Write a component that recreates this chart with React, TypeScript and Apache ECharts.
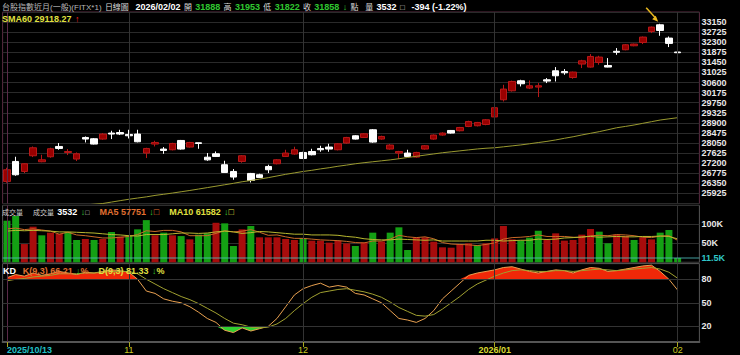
import React, { useEffect, useRef } from 'react';
import * as echarts from 'echarts';

const dates = [
  '2025/10/13','2025/10/14','2025/10/15','2025/10/16','2025/10/17','2025/10/20','2025/10/21','2025/10/22','2025/10/23','2025/10/27','2025/10/28','2025/10/29','2025/10/30','2025/10/31',
  '2025/11/03','2025/11/04','2025/11/05','2025/11/06','2025/11/07','2025/11/10','2025/11/11','2025/11/12','2025/11/13','2025/11/14','2025/11/17','2025/11/18','2025/11/19','2025/11/20','2025/11/21','2025/11/24','2025/11/25','2025/11/26','2025/11/27','2025/11/28',
  '2025/12/01','2025/12/02','2025/12/03','2025/12/04','2025/12/05','2025/12/08','2025/12/09','2025/12/10','2025/12/11','2025/12/12','2025/12/15','2025/12/16','2025/12/17','2025/12/18','2025/12/19','2025/12/22','2025/12/23','2025/12/24','2025/12/26','2025/12/29','2025/12/30','2025/12/31',
  '2026/01/02','2026/01/05','2026/01/06','2026/01/07','2026/01/08','2026/01/09','2026/01/12','2026/01/13','2026/01/14','2026/01/15','2026/01/16','2026/01/19','2026/01/20','2026/01/21','2026/01/22','2026/01/23','2026/01/26','2026/01/27','2026/01/28','2026/01/29','2026/01/30',
  '2026/02/02', '', ''
];

const opens = [26430,27273,26851,27513,27260,27471,27905,27652,27374,28285,28230,28217,28470,28493,28411,28428,27627,28006,27796,27766,28158,27880,28061,27453,27597,27134,26851,27273,26767,26712,27062,27176,27484,27585,27652,27694,27821,27880,27766,28049,28356,28285,28609,28217,27796,27627,27627,27458,27796,28217,28386,28580,28567,28748,28778,28833,29150,29874,30253,30675,30367,30409,30717,31097,31067,30814,31379,31252,31447,31320,31918,31982,32151,32290,32754,33036,32475,31888];
const closes = [26923,26712,27176,27850,27344,27808,27821,27694,27597,28217,28006,28428,28428,28428,28356,28103,27821,28074,27736,28032,27796,28074,28030,27340,27484,26809,26615,27513,26472,26600,26923,27344,27627,27766,27400,27555,27766,27796,28019,28285,28217,28440,28090,28327,27964,27694,27484,27652,27935,28386,28470,28470,28706,28959,28917,29031,29540,30325,30646,30549,30464,30464,30662,30886,31012,31042,31518,31700,31674,31253,31876,32193,32222,32517,32939,32796,32252,31858];
const lows = [26375,26670,26784,27458,27240,27430,27766,27543,27290,28074,27990,28190,28217,28386,28242,28080,27416,27905,27597,27740,27770,27860,27808,27300,27460,26790,26501,27218,26387,26580,26784,27150,27460,27560,27380,27530,27682,27682,27740,28020,28200,28270,28061,28190,27770,27374,27460,27430,27770,28190,28360,28450,28540,28720,28750,28800,29100,29802,30220,30435,30325,29988,30578,30646,30928,30760,31210,31230,31350,31240,31771,31960,32130,32222,32686,32572,32096,31822];
const highs = [27007,27471,27200,27905,27555,27850,28049,27796,27652,28327,28260,28470,28567,28609,28609,28609,27850,28145,27880,28060,28180,28100,28070,27627,27694,27302,26952,27540,26790,26754,27134,27370,27766,27893,27680,27808,27935,28019,28040,28310,28380,28470,28639,28360,28000,27720,27766,27680,27960,28410,28500,28600,28730,28990,28940,29060,29600,30506,30680,30717,30688,30578,30789,31253,31168,31060,31560,31801,31729,31632,32054,32220,32240,32540,32960,33078,32543,31953];

const sma60 = [25100,25150,25200,25250,25290,25320,25350,25380,25410,25440,25470,25500,25560,25620,25679,25730,25780,25840,25890,25940,25995,26050,26110,26170,26230,26290,26350,26417,26470,26530,26590,26660,26730,26790,26851,26900,26960,27010,27070,27120,27176,27220,27260,27300,27340,27387,27440,27490,27540,27590,27640,27680,27720,27760,27800,27830,27850,27890,27930,27970,28019,28070,28120,28180,28250,28314,28390,28460,28530,28610,28694,28750,28810,28880,28950,29020,29070,29118];

const volumes = [109.5,121.8,48,93.7,71,78,74.5,79.7,58.7,61.3,58.7,61.3,79.7,67.4,71,86.7,111,71,78,71,69,60.4,72.7,76.2,104,102.5,42.9,86.7,95.5,65.7,65.7,65.7,61.3,58.7,64,57,57,51.7,57,49.9,42.9,52.5,78,55,78,92,32.3,65.7,65.7,54.3,39.4,38.5,48,50,45.5,50,63,95.5,60.4,57,64.8,83,58.7,76.2,57,58.7,72.7,87.6,80.6,50,72.7,69.2,58.7,65.7,60.4,78,85,11.5];
const volDir = 'ggrrgrrggrgrgrgggrgrgrggrggrgrrrrrgrrrrrgrgrgggrrrrrrrgrrrrgggrrrrrrggrrgrrggg';
const volMA5 = [88,90,86,88,85,82,74,79,72,70,67,64,64,66,68,73,83,81,84,84,80,70,70,70,76,83,80,82,86,79,71,72,67,63,63,61,59,58,57,55,52,51,56,56,61,71,67,65,67,62,52,48,47,46,44,47,51,61,65,66,68,72,68,68,68,66,65,70,71,70,73,72,70,66,65,69,70,57.75];
const volMA10 = [82,84,83,84,83,82,80,80,79,78,77,75,73,72,70,69,73,73,73,75,77,77,76,77,80,82,80,76,78,81,80,78,76,74,74,72,72,72,71,68,66,62,60,59,59,61,60,59,58,59,56,56,56,56,56,58,58,56,57,58,58,61,60,61,64,65,67,68,66,67,68,67,67,68,68,69,68,61.58];

const kValues = [82,86,84,88,85,87,90,88,86,89,88,90,92,91,89,80,65,62,55,52,50,45,38,30,25,15,12,18,14,17,20,30,45,60,68,72,75,70,72,70,62,60,55,50,40,30,28,25,30,40,55,65,75,85,88,90,92,95,96,93,90,88,90,92,91,88,92,95,94,90,91,93,95,97,98,90,80,66.21];
const dValues = [78,80,81,83,84,85,87,87,87,88,88,89,90,90,90,87,80,74,68,63,58,54,49,43,37,30,24,22,19,18,19,23,30,40,49,57,63,65,67,68,66,64,61,57,51,44,39,34,33,35,42,50,58,67,74,79,84,88,91,92,91,90,90,91,91,90,91,92,93,92,91,92,93,94,95,93,89,81.33];

const FONT = '"Liberation Sans", "Noto Sans CJK TC", sans-serif';
const RED = '#990000';
const RED_B = '#b81818';
const GREEN = '#14a014';
const ARROW = '#e8b820';

function isMonthStart(i: number) {
  if (!dates[i]) return false;
  if (i === 0) return true;
  return !!dates[i - 1] && dates[i].slice(0, 7) !== dates[i - 1].slice(0, 7);
}
function tickLabel(i: number) {
  const d = dates[i];
  if (i === 0) return '{c|' + d + '}';
  if (d.slice(0, 4) !== dates[i - 1].slice(0, 4)) return '{b|' + d.slice(0, 7) + '}';
  return '{y|' + d.slice(5, 7) + '}';
}

export default function App() {
  const ref = useRef<HTMLDivElement>(null);
  useEffect(() => {
    const chart = echarts.init(ref.current!, null, { renderer: 'svg' });
    const monthIdx = dates.map((_, i) => i).filter(isMonthStart);
    const gridLineStyle = { color: '#333', width: 1, type: 'solid' as const };
    const vLines = monthIdx.map((i) => ({ xAxis: i, lineStyle: i === 0 ? { color: '#5a2a48', width: 1, type: 'solid' } : gridLineStyle }));
    const axisLabelStyle = { color: '#e8e8e8', fontSize: 9, fontWeight: 'bold' as const, fontFamily: FONT, margin: 2 };

    const xAxes = [0, 1, 2].map((g) => ({
      type: 'category',
      gridIndex: g,
      data: dates,
      boundaryGap: true,
      axisLine: { show: g === 2, lineStyle: { color: '#555', width: 2 } },
      axisTick: { show: g === 2, alignWithLabel: true, interval: (i: number) => isMonthStart(i), length: 5, lineStyle: { color: '#a8a820' } },
      axisLabel: {
        show: g === 2,
        interval: (i: number) => isMonthStart(i),
        formatter: (_v: string, i: number) => tickLabel(i),
        margin: 3,
        alignMinLabel: 'left',
        rich: {
          c: { color: '#20c0c8', fontSize: 9, fontWeight: 'bold', fontFamily: FONT },
          y: { color: '#c8c820', fontSize: 9, fontFamily: FONT },
          b: { color: '#d8d830', fontSize: 9, fontWeight: 'bold', fontFamily: FONT },
        },
      },
      splitLine: { show: false },
    }));

    const option: any = {
      animation: false,
      backgroundColor: '#000',
      grid: [
        { left: 2.6, right: 40.6, top: 12, height: 191.5, show: true, borderColor: '#5a2a40', borderWidth: 1 },
        { left: 2.6, right: 40.6, top: 205.3, height: 57, show: true, borderColor: '#555', borderWidth: 1 },
        { left: 2.6, right: 40.6, top: 263.6, height: 78.4, show: true, borderColor: '#555', borderWidth: 1 },
      ],
      xAxis: xAxes,
      yAxis: [
        {
          type: 'value', gridIndex: 0, position: 'right', min: 25500, max: 33575, interval: 425,
          axisLine: { show: false }, axisTick: { show: false },
          axisLabel: { ...axisLabelStyle, showMinLabel: false, showMaxLabel: false, formatter: (v: number) => String(v) },
          splitLine: { lineStyle: { color: '#2a2a2a' } },
        },
        {
          type: 'value', gridIndex: 1, position: 'right', min: 0, max: 150, interval: 50,
          axisLine: { show: false }, axisTick: { show: false },
          axisLabel: { ...axisLabelStyle, formatter: (v: number) => (v === 50 || v === 100 ? v + 'K' : '') },
          splitLine: { lineStyle: { color: '#2e2e2e' } },
        },
        {
          type: 'value', gridIndex: 2, position: 'right', min: 0, max: 100, interval: 10,
          axisLine: { show: false }, axisTick: { show: false },
          axisLabel: { ...axisLabelStyle, formatter: (v: number) => (v === 20 || v === 50 || v === 80 ? String(v) : '') },
          splitLine: { show: false },
        },
      ],
      series: [
        {
          type: 'candlestick', xAxisIndex: 0, yAxisIndex: 0, barWidth: 7, clip: false,
          data: opens.map((o, i) => [o, closes[i], lows[i], highs[i]]),
          itemStyle: { color: RED, color0: '#ffffff', borderColor: RED_B, borderColor0: '#ffffff', borderWidth: 1 },
          markLine: { silent: true, symbol: 'none', label: { show: false }, lineStyle: gridLineStyle, data: vLines },
        },
        {
          type: 'line', xAxisIndex: 0, yAxisIndex: 0, data: sma60, symbol: 'none',
          lineStyle: { color: '#9a9a30', width: 1 },
        },
        {
          type: 'bar', xAxisIndex: 1, yAxisIndex: 1, barWidth: 7,
          data: volumes.map((v, i) => ({ value: v, itemStyle: { color: volDir[i] === 'r' ? '#a80c0c' : GREEN } })),
          markLine: {
            silent: true, symbol: 'none',
            data: [
              ...vLines.map((d) => ({ ...d, label: { show: false } })),
              {
                yAxis: volumes[volumes.length - 1],
                lineStyle: { color: 'rgba(80,190,190,0.55)', width: 1.5, type: 'solid' },
                label: { show: true, position: 'end', distance: 2, formatter: '11.5K', color: '#30c8c8', fontSize: 9, fontWeight: 'bold', fontFamily: FONT },
              },
            ],
          },
        },
        { type: 'line', xAxisIndex: 1, yAxisIndex: 1, data: volMA5, symbol: 'none', lineStyle: { color: '#c86a28', width: 1 } },
        { type: 'line', xAxisIndex: 1, yAxisIndex: 1, data: volMA10, symbol: 'none', lineStyle: { color: '#b8b830', width: 1 } },
        {
          type: 'line', xAxisIndex: 2, yAxisIndex: 2, symbol: 'none',
          data: kValues.map((k) => (k > 80 ? k : 80)),
          lineStyle: { width: 0 }, areaStyle: { origin: 80, color: '#f02808', opacity: 1 },
        },
        {
          type: 'line', xAxisIndex: 2, yAxisIndex: 2, symbol: 'none',
          data: kValues.map((k) => (k < 20 ? k : 20)),
          lineStyle: { width: 0 }, areaStyle: { origin: 20, color: '#30d030', opacity: 1 },
        },
        {
          type: 'line', xAxisIndex: 2, yAxisIndex: 2, data: kValues, symbol: 'none',
          lineStyle: { color: '#e8a050', width: 1 },
          markLine: {
            silent: true, symbol: 'none', label: { show: false }, lineStyle: gridLineStyle,
            data: [...vLines, { yAxis: 20 }, { yAxis: 50 }, { yAxis: 80 }],
          },
        },
        { type: 'line', xAxisIndex: 2, yAxisIndex: 2, data: dValues, symbol: 'none', lineStyle: { color: '#a0a030', width: 1 } },
      ],
      graphic: [
        {
          id: 'hdr', type: 'text', left: 2, top: 1, z: 100,
          style: {
            text: '{g|台股指數近月(一般)(FITX*1)} {w|日線圖}  {b|2026/02/02} {w|開} {n|31888} {w|高} {n|31953} {w|低} {n|31822} {w|收} {n|31858} {n|↓} {w|點}  {w|量} {b|3532} {w|□}  {b|-394 (-1.22%)}',
            rich: {
              g: { fill: '#b8b8b8', fontSize: 8, fontFamily: FONT },
              w: { fill: '#d8d8d8', fontSize: 8, fontFamily: FONT },
              b: { fill: '#ffffff', fontSize: 9, fontWeight: 'bold', fontFamily: FONT },
              n: { fill: '#30c830', fontSize: 9, fontWeight: 'bold', fontFamily: FONT },
            },
          },
        },
        {
          id: 'sma', type: 'text', left: 2, top: 13, z: 100,
          style: {
            text: '{y|SMA60 29118.27} {r|↑}',
            rich: {
              y: { fill: '#e0e040', fontSize: 9, fontWeight: 'bold', fontFamily: FONT },
              r: { fill: '#ff2020', fontSize: 9, fontWeight: 'bold', fontFamily: FONT },
            },
          },
        },
        {
          id: 'vol', type: 'text', left: 2, top: 206, z: 100,
          style: {
            text: '{w|成交量}   {w|成交量} {b|3532} {g|↓}{w|□}   {o|MA5 57751} {g|↓}{o|□}   {y|MA10 61582} {g|↓}{y|□}',
            rich: {
              w: { fill: '#d0d0d0', fontSize: 7, fontFamily: FONT },
              b: { fill: '#ffffff', fontSize: 9, fontWeight: 'bold', fontFamily: FONT },
              g: { fill: '#30c830', fontSize: 9, fontWeight: 'bold', fontFamily: FONT },
              o: { fill: '#e07030', fontSize: 9, fontWeight: 'bold', fontFamily: FONT },
              y: { fill: '#e0e040', fontSize: 9, fontWeight: 'bold', fontFamily: FONT },
            },
          },
        },
        {
          id: 'kd', type: 'text', left: 3, top: 265, z: 100,
          style: {
            text: '{w|KD}  {o|K(9,3) 66.21} {g|↓}{o|%}   {y|D(9,3) 81.33} {g|↓}{y|%}',
            rich: {
              w: { fill: '#ffffff', fontSize: 9, fontWeight: 'bold', fontFamily: FONT },
              g: { fill: '#30c830', fontSize: 9, fontWeight: 'bold', fontFamily: FONT },
              o: { fill: '#e07030', fontSize: 9, fontWeight: 'bold', fontFamily: FONT },
              y: { fill: '#e0e040', fontSize: 9, fontWeight: 'bold', fontFamily: FONT },
            },
          },
        },
      ],
    };
    chart.setOption(option);

    // annotation arrow pointing at the highest candle, positioned through the chart's own scales
    let top = 0;
    highs.forEach((h, i) => { if (h > highs[top]) top = i; });
    const p = chart.convertToPixel({ xAxisIndex: 0, yAxisIndex: 0 }, [top, highs[top]]) as number[];
    if (p && isFinite(p[0]) && isFinite(p[1])) {
      const tx = p[0] - 2, ty = p[1] - 2;
      chart.setOption({
        graphic: [
          { id: 'arrowLine', type: 'line', z: 100, shape: { x1: tx - 12, y1: ty - 14, x2: tx - 2, y2: ty - 3 }, style: { stroke: ARROW, lineWidth: 1.5 } },
          { id: 'arrowHead', type: 'polygon', z: 100, shape: { points: [[tx, ty], [tx - 6, ty - 2.5], [tx - 2.5, ty - 6]] }, style: { fill: ARROW } },
        ],
      });
    }
    return () => chart.dispose();
  }, []);
  return <div ref={ref} style={{ position: 'fixed', left: 0, top: 0, width: 740, height: 355, background: '#000' }} />;
}
